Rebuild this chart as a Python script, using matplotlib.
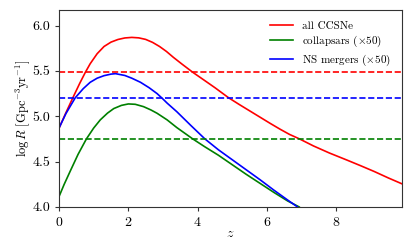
import matplotlib
matplotlib.use("Agg")
import matplotlib.pyplot as plt

# values
z_ccsne = [0, 0.2, 0.4, 0.6, 0.76, 0.9, 1.1, 1.3, 1.5, 1.7, 1.9, 2.1, 2.3, 2.5,
           2.7, 2.9, 3.1, 3.3, 3.55, 3.86, 4.2, 4.5, 4.89, 5.2, 5.5, 5.8, 6.1,
           6.38, 6.65, 6.94, 7.34, 7.8, 8.3, 8.7, 9.1, 9.5, 9.9]
logR_ccsne = [4.868, 5.04, 5.205, 5.365, 5.485, 5.58, 5.69, 5.77, 5.818, 5.847,
              5.864, 5.870, 5.865, 5.848, 5.815, 5.77, 5.715, 5.65, 5.575, 5.485,
              5.395, 5.315, 5.205, 5.13, 5.06, 4.99, 4.92, 4.857, 4.80, 4.75,
              4.673, 4.595, 4.518, 4.455, 4.39, 4.32, 4.254]

z_coll = [0, 0.15, 0.33, 0.55, 0.79, 1.0, 1.19, 1.4, 1.58, 1.8, 2.0, 2.2, 2.44,
          2.65, 2.83, 3.12, 3.4, 3.86, 4.2, 4.6, 5.0, 5.4, 5.8, 6.2, 6.6, 6.93]
logR_coll = [4.114, 4.25, 4.40, 4.58, 4.75, 4.87, 4.96, 5.035, 5.085, 5.12, 5.136,
             5.132, 5.106, 5.07, 5.033, 4.96, 4.875, 4.75, 4.665, 4.57, 4.465,
             4.36, 4.26, 4.16, 4.065, 4.0]

z_nsm = [0, 0.2, 0.47, 0.7, 0.9, 1.1, 1.3, 1.5, 1.63, 1.9, 2.1, 2.35, 2.6, 2.83,
         3.0, 3.12, 3.4, 3.8, 4.21, 4.6, 5.0, 5.4, 5.8, 6.2, 6.6, 6.88]
logR_nsm = [4.87, 5.03, 5.205, 5.305, 5.375, 5.42, 5.448, 5.465, 5.47, 5.45, 5.42,
            5.375, 5.315, 5.25, 5.19, 5.145, 5.05, 4.90, 4.75, 4.63, 4.52, 4.41,
            4.30, 4.185, 4.075, 4.0]

# horizontal reference levels
level_ccsne = 5.485
level_nsm = 5.205
level_coll = 4.75

labels = ["all CCSNe", r"collapsars ($\times$50)", r"NS mergers ($\times$50)"]

plt.rcParams["font.family"] = "serif"
plt.rcParams["font.serif"] = ["cmr10"]
plt.rcParams["mathtext.fontset"] = "cm"
plt.rcParams["axes.formatter.use_mathtext"] = True

fig = plt.figure(figsize=(4.07, 2.44), dpi=100)
ax = fig.add_axes([0.145, 0.152, 0.843, 0.808])

ax.plot(z_ccsne, logR_ccsne, color="red", lw=1.2, label=labels[0])
ax.plot(z_coll, logR_coll, color="green", lw=1.2, label=labels[1])
ax.plot(z_nsm, logR_nsm, color="blue", lw=1.2, label=labels[2])

ax.axhline(level_ccsne, color="red", ls="--", lw=1.2)
ax.axhline(level_nsm, color="blue", ls="--", lw=1.2)
ax.axhline(level_coll, color="green", ls="--", lw=1.2)

ax.set_xlim(0, 9.9)
ax.set_ylim(4.0, 6.175)
ax.set_xticks([0, 2, 4, 6, 8])
ax.set_yticks([4.0, 4.5, 5.0, 5.5, 6.0])
ax.set_yticklabels(["4.0", "4.5", "5.0", "5.5", "6.0"])
ax.tick_params(labelsize=10, length=3, color="#333333")
for s in ax.spines.values():
    s.set_color("#333333")

ax.set_xlabel(r"$z$", fontsize=10, labelpad=-1)
ax.set_ylabel(r"$\log R\ [\mathrm{Gpc^{-3}yr^{-1}}]$", fontsize=9, labelpad=0)

ax.legend(loc="upper right", frameon=False, fontsize=8, handlelength=2.1,
          handletextpad=0.8, labelspacing=0.3, borderaxespad=0.6)

fig.savefig("out.png", dpi=100)
